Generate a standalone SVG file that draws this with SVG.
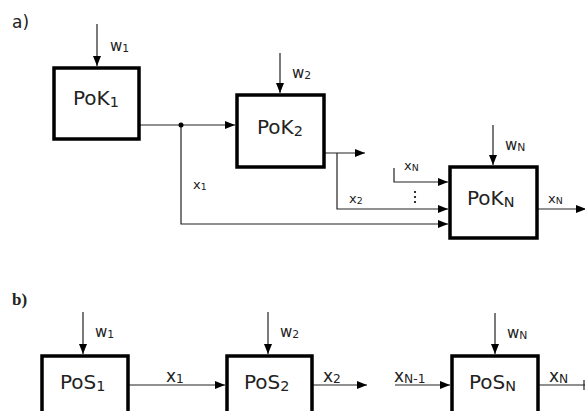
<svg xmlns="http://www.w3.org/2000/svg" width="585" height="411" viewBox="0 0 585 411">
<style>
.box{fill:#fff;stroke:#000;stroke-width:3.5}
.ln{fill:none;stroke:#222;stroke-width:1.2}
.t{font-family:"DejaVu Sans",Verdana,sans-serif;fill:#222}
.big{font-size:20px}
.lab{font-size:15px}
.labb{font-size:17px}
.sub{font-size:0.72em}
</style>
<defs>
<marker id="ah" markerUnits="userSpaceOnUse" markerWidth="10" markerHeight="10" viewBox="0 0 10 10" refX="10" refY="5" orient="auto">
<path d="M0,1 L10,5 L0,9 Z" fill="#000"/>
</marker>
</defs>
<rect width="585" height="411" fill="#fff"/>
<text class="t" x="12" y="28" font-size="17">a)</text>
<text x="12" y="305" font-size="17" font-weight="bold" font-family="Liberation Serif,serif" fill="#222">b)</text>

<g id="connectors">
<line class="ln" x1="97" y1="24" x2="97" y2="66" marker-end="url(#ah)"/>
<line class="ln" x1="280" y1="53" x2="280" y2="93" marker-end="url(#ah)"/>
<line class="ln" x1="493" y1="125" x2="493" y2="165" marker-end="url(#ah)"/>
<line class="ln" x1="139" y1="125" x2="235" y2="125" marker-end="url(#ah)"/>
<polyline class="ln" points="181,125 181,224 448,224" marker-end="url(#ah)"/>
<line class="ln" x1="324" y1="153" x2="365" y2="153" marker-end="url(#ah)"/>
<polyline class="ln" points="337,153 337,209 448,209" marker-end="url(#ah)"/>
<polyline class="ln" points="394,168 394,182 448,182" marker-end="url(#ah)"/>
<line class="ln" x1="537" y1="209" x2="586" y2="209" marker-end="url(#ah)"/>
<circle cx="181" cy="125" r="2.5" fill="#000"/>
<circle cx="415" cy="192" r="1.1" fill="#000"/>
<circle cx="415" cy="197" r="1.1" fill="#000"/>
<circle cx="415" cy="202" r="1.1" fill="#000"/>
<line class="ln" x1="83" y1="312" x2="83" y2="354" marker-end="url(#ah)"/>
<line class="ln" x1="268" y1="312" x2="268" y2="354" marker-end="url(#ah)"/>
<line class="ln" x1="495" y1="313" x2="495" y2="354" marker-end="url(#ah)"/>
<line class="ln" x1="128" y1="385" x2="225" y2="385" marker-end="url(#ah)"/>
<line class="ln" x1="312" y1="385" x2="367" y2="385" marker-end="url(#ah)"/>
<line class="ln" x1="395" y1="385" x2="450" y2="385" marker-end="url(#ah)"/>
<line class="ln" x1="538" y1="385" x2="585" y2="385"/>
<line class="ln" x1="584" y1="380" x2="584" y2="390"/>
</g>

<g id="labels">
<text class="t lab" x="110" y="51">w<tspan class="sub" dy="1">1</tspan></text>
<text class="t lab" x="292" y="78">w<tspan class="sub" dy="1">2</tspan></text>
<text class="t lab" x="505" y="150">w<tspan class="sub" dy="1">N</tspan></text>
<text class="t" font-size="13" x="193" y="189">x<tspan class="sub" dy="1">1</tspan></text>
<text class="t" font-size="13" x="349" y="203">x<tspan class="sub" dy="1">2</tspan></text>
<text class="t" font-size="13" x="404" y="170">x<tspan class="sub" dy="1">N</tspan></text>
<text class="t" font-size="13" x="548" y="203">x<tspan class="sub" dy="1">N</tspan></text>
<text class="t lab" x="95" y="337">w<tspan class="sub" dy="1">1</tspan></text>
<text class="t lab" x="280" y="337">w<tspan class="sub" dy="1">2</tspan></text>
<text class="t lab" x="507" y="338">w<tspan class="sub" dy="1">N</tspan></text>
<text class="t labb" x="166" y="382">x<tspan class="sub" dy="1">1</tspan></text>
<text class="t labb" x="323" y="382">x<tspan class="sub" dy="1">2</tspan></text>
<text class="t labb" x="394" y="382">x<tspan class="sub" dy="1">N-1</tspan></text>
<text class="t labb" x="549" y="382">x<tspan class="sub" dy="1">N</tspan></text>
</g>

<g id="PoK1">
<rect class="box" x="54" y="68" width="85" height="71"/>
<text class="t big" x="73" y="105">PoK<tspan class="sub" dy="2">1</tspan></text>
</g>
<g id="PoK2">
<rect class="box" x="237" y="95" width="87" height="72"/>
<text class="t big" x="257" y="134">PoK<tspan class="sub" dy="2">2</tspan></text>
</g>
<g id="PoKN">
<rect class="box" x="450" y="167" width="87" height="71"/>
<text class="t big" x="467" y="205">PoK<tspan class="sub" dy="2">N</tspan></text>
</g>
<g id="PoS1">
<rect class="box" x="42" y="356" width="86" height="70"/>
<text class="t big" x="60" y="389">PoS<tspan class="sub" dy="2">1</tspan></text>
</g>
<g id="PoS2">
<rect class="box" x="227" y="356" width="85" height="70"/>
<text class="t big" x="244" y="389">PoS<tspan class="sub" dy="2">2</tspan></text>
</g>
<g id="PoSN">
<rect class="box" x="452" y="356" width="86" height="70"/>
<text class="t big" x="469" y="389">PoS<tspan class="sub" dy="2">N</tspan></text>
</g>
</svg>
